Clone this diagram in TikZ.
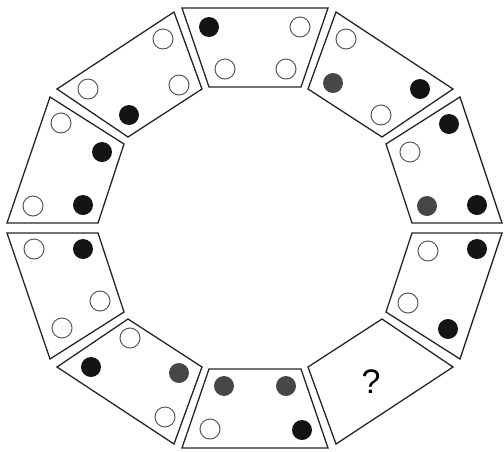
\documentclass[tikz,border=0pt]{standalone}
\usepackage{fontspec}
\setsansfont{Liberation Sans}
\usepackage{tikz}

\begin{document}
\begin{tikzpicture}[x=0.5pt, y=-0.5pt, every node/.style={font=\sffamily}]
    \tikzstyle{tile}=[draw=black!85, line width=0.65pt]
    \tikzstyle{dot}=[circle, inner sep=0pt, minimum size=10pt]
    \tikzstyle{blackdot}=[dot, fill=black!92]
    \tikzstyle{greydot}=[dot, fill=black!72]
    \tikzstyle{whitedot}=[dot, draw=black!65, line width=0.5pt, fill=white]

    \useasboundingbox (0,0) rectangle (504,451);

    % ring of tiles, clockwise from the top
    \draw[tile] (182,8) -- (328,8) -- (301,87) -- (209,87) -- cycle;
    \draw[tile] (336,12) -- (453,89) -- (382,137) -- (308,89) -- cycle;
    \draw[tile] (460,97) -- (386,144) -- (412,223) -- (502,223) -- cycle;
    \draw[tile] (460,359) -- (386,312) -- (412,233) -- (502,233) -- cycle;
    \draw[tile] (336,444) -- (453,367) -- (382,319) -- (308,367) -- cycle;
    \draw[tile] (182,448) -- (328,448) -- (301,369) -- (209,369) -- cycle;
    \draw[tile] (174,444) -- (57,367) -- (128,319) -- (202,367) -- cycle;
    \draw[tile] (50,359) -- (124,312) -- (98,233) -- (7,233) -- cycle;
    \draw[tile] (50,97) -- (124,144) -- (98,223) -- (7,223) -- cycle;
    \draw[tile] (174,12) -- (57,89) -- (128,137) -- (202,89) -- cycle;

    % top tile
    \node[blackdot] (ta) at (209,27) {};
    \node[whitedot] (tb) at (300,27) {};
    \node[whitedot] (tc) at (225,69) {};
    \node[whitedot] (td) at (286,69) {};

    % upper right tile
    \node[whitedot] (ura) at (346,39) {};
    \node[greydot] (urb) at (333,83) {};
    \node[blackdot] (urc) at (420,89) {};
    \node[whitedot] (urd) at (381,115) {};

    % right upper tile
    \node[blackdot] (rua) at (449,124) {};
    \node[whitedot] (rub) at (410,152) {};
    \node[greydot] (ruc) at (427,206) {};
    \node[blackdot] (rud) at (477,205) {};

    % right lower tile
    \node[whitedot] (rla) at (428,251) {};
    \node[blackdot] (rlb) at (477,249) {};
    \node[whitedot] (rlc) at (408,303) {};
    \node[blackdot] (rld) at (448,329) {};

    % lower right tile, the missing one
    \node[font=\sffamily\fontsize{17}{20}\selectfont] (ask) at (371,382) {?};

    % bottom tile
    \node[greydot] (ba) at (224,386) {};
    \node[greydot] (bb) at (286,386) {};
    \node[whitedot] (bc) at (210,429) {};
    \node[blackdot] (bd) at (302,430) {};

    % lower left tile
    \node[whitedot] (lla) at (130,338) {};
    \node[blackdot] (llb) at (91,367) {};
    \node[greydot] (llc) at (179,373) {};
    \node[whitedot] (lld) at (165,417) {};

    % left lower tile
    \node[whitedot] (lba) at (34,249) {};
    \node[blackdot] (lbb) at (83,249) {};
    \node[whitedot] (lbc) at (100,301) {};
    \node[whitedot] (lbd) at (62,328) {};

    % left upper tile
    \node[whitedot] (lua) at (61,123) {};
    \node[blackdot] (lub) at (102,152) {};
    \node[whitedot] (luc) at (33,206) {};
    \node[blackdot] (lud) at (83,205) {};

    % upper left tile
    \node[whitedot] (ula) at (163,39) {};
    \node[whitedot] (ulb) at (88,89) {};
    \node[whitedot] (ulc) at (179,85) {};
    \node[blackdot] (uld) at (129,115) {};
\end{tikzpicture}
\end{document}
